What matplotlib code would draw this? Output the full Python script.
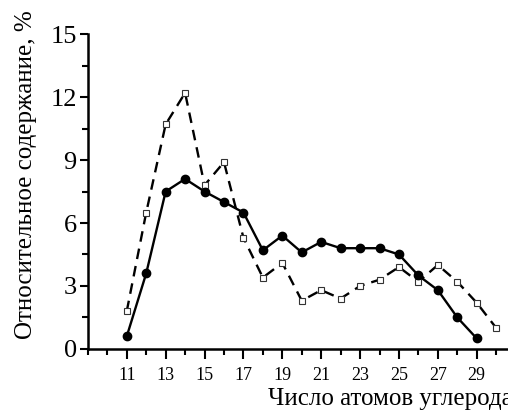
import numpy as np
import matplotlib
matplotlib.use("Agg")
import matplotlib.pyplot as plt
from matplotlib.ticker import MultipleLocator

plt.rcParams["font.family"] = ["Liberation Serif", "DejaVu Serif"]

# число атомов углерода
carbon_solid = [11, 12, 13, 14, 15, 16, 17, 18, 19, 20, 21, 22, 23, 24, 25, 26, 27, 28, 29]
share_solid = [0.6, 3.6, 7.5, 8.1, 7.5, 7.0, 6.5, 4.7, 5.4, 4.6, 5.1, 4.8, 4.8, 4.8, 4.5, 3.5, 2.8, 1.5, 0.5]

carbon_dash = [11, 12, 13, 14, 15, 16, 17, 18, 19, 20, 21, 22, 23, 24, 25, 26, 27, 28, 29, 30]
share_dash = [1.8, 6.5, 10.7, 12.2, 7.8, 8.9, 5.3, 3.4, 4.1, 2.3, 2.8, 2.4, 3.0, 3.3, 3.9, 3.2, 4.0, 3.2, 2.2, 1.0]

x_major = [11, 13, 15, 17, 19, 21, 23, 25, 27, 29]
y_major = [0, 3, 6, 9, 12, 15]

fig = plt.figure(figsize=(5.08, 4.11), dpi=100)
ax = fig.add_axes([0.173, 0.151, 0.842, 0.766])

ax.plot(carbon_dash, share_dash, color="black", lw=1.7, dashes=(4.5, 3),
        marker="s", ms=5, mfc="white", mec="#333333", mew=0.8, zorder=3)
ax.plot(carbon_solid, share_solid, color="black", lw=1.7,
        marker="o", ms=6, mfc="black", mec="black", zorder=4)

ax.set_xlim(9, 31)
ax.set_ylim(0, 15)
ax.set_xticks(x_major)
ax.xaxis.set_minor_locator(MultipleLocator(1))
ax.set_yticks(y_major)
ax.yaxis.set_minor_locator(MultipleLocator(1.5))

for s in ["top", "right"]:
    ax.spines[s].set_visible(False)
for s in ["left", "bottom"]:
    ax.spines[s].set_linewidth(1.8)

ax.tick_params(axis="x", which="major", direction="out", length=7, width=1.5, labelsize=13, pad=6)
ax.tick_params(axis="x", which="minor", direction="out", length=4, width=1.5)
ax.tick_params(axis="y", which="major", direction="out", length=6, width=1.5, labelsize=19, pad=2)
ax.tick_params(axis="y", which="minor", direction="out", length=4, width=1.5)

ax.set_xlabel("Число атомов углерода", fontsize=18)
ax.xaxis.set_label_coords(0.42, -0.125)
ax.xaxis.label.set_ha("left")
ax.set_ylabel("Относительное содержание, %", fontsize=18)
ax.yaxis.set_label_coords(-0.12, 0.555)

fig.savefig("out.png", dpi=100)
